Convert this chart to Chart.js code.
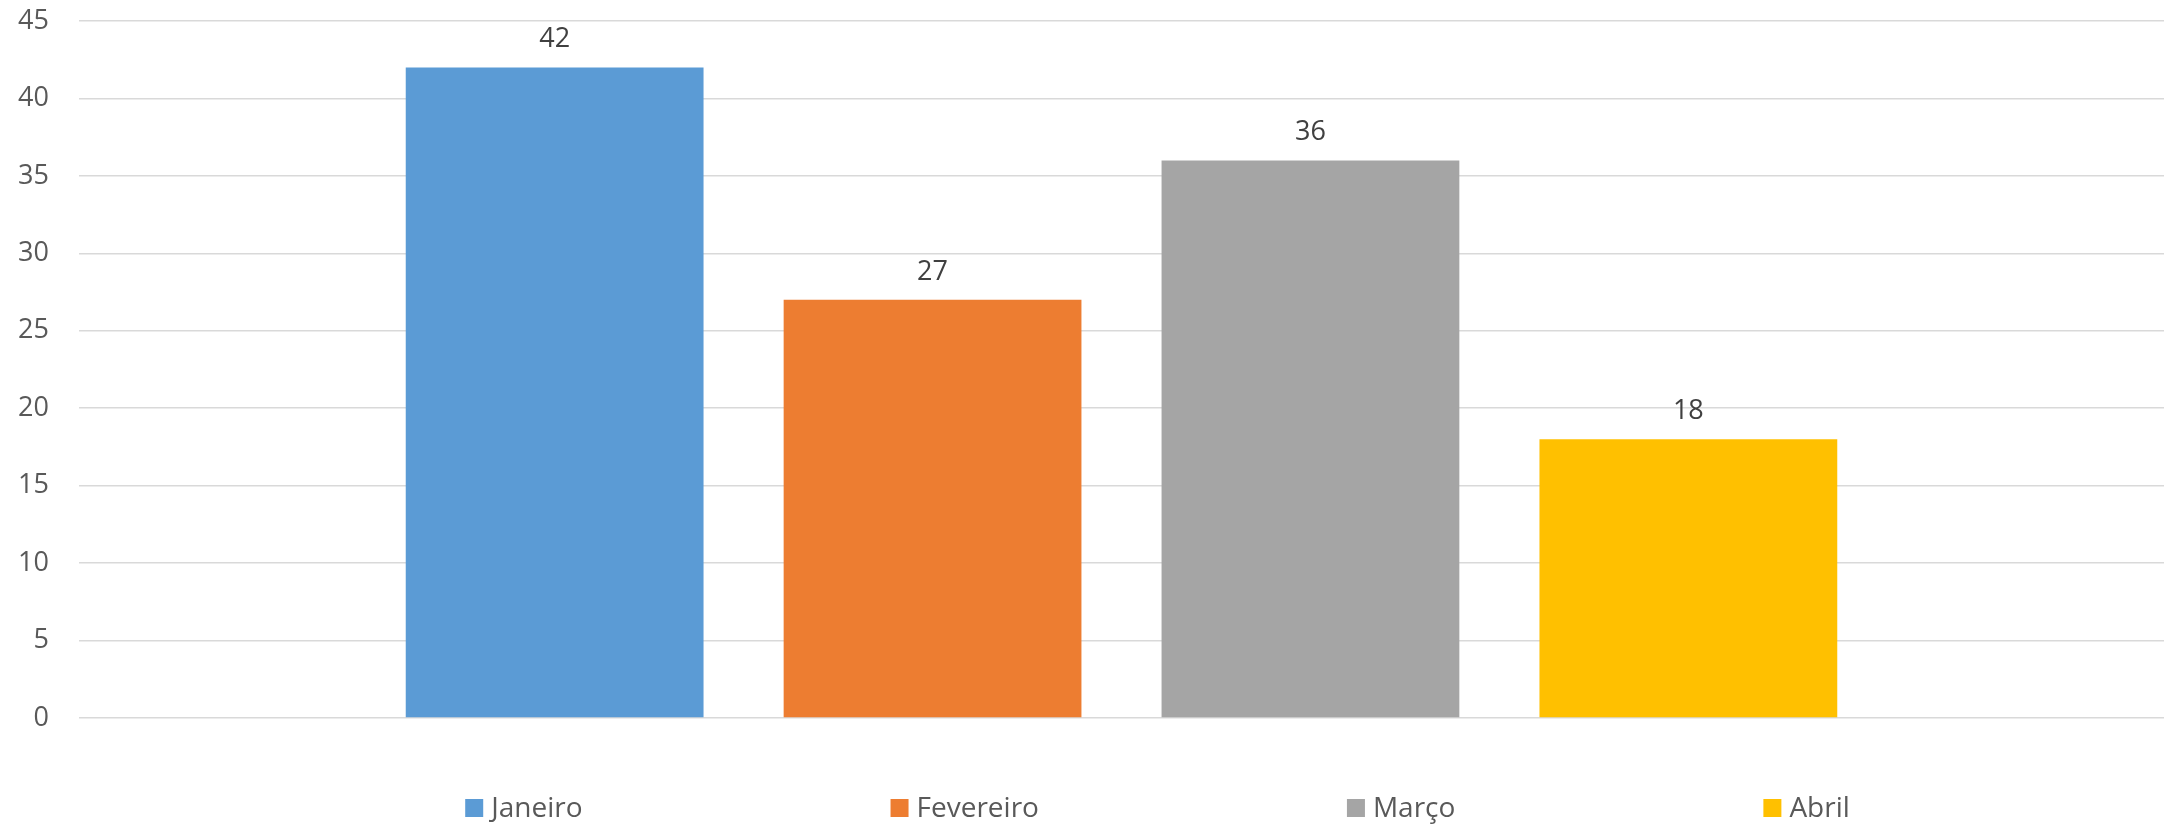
<!DOCTYPE html>
<html>
<head>
<meta charset="utf-8">
<script src="https://cdn.jsdelivr.net/npm/chart.js@4/dist/chart.umd.min.js"></script>
<style>
  html, body { margin: 0; padding: 0; background: #fff; }
  #wrap { width: 2164px; height: 824px; position: relative; }
</style>
</head>
<body>
<div id="wrap"><canvas id="chart"></canvas></div>
<script>
(function () {
    'use strict';

    // data
    var months = ['Janeiro', 'Fevereiro', 'Março', 'Abril'];
    var counts = [42, 27, 36, 18];
    var colors = ['#5B9BD5', '#ED7D31', '#A5A5A5', '#FFC000'];
    var yTicks = [0, 5, 10, 15, 20, 25, 30, 35, 40, 45];

    var FONT = '"Open Sans", "Noto Sans", sans-serif';

    // value printed over each bar
    var valueLabels = {
        id: 'valueLabels',
        afterDatasetsDraw: function (chart) {
            var ctx = chart.ctx;
            ctx.save();
            ctx.font = '27px ' + FONT;
            ctx.fillStyle = '#404040';
            ctx.textAlign = 'center';
            ctx.textBaseline = 'alphabetic';
            chart.data.datasets.forEach(function (ds, i) {
                var meta = chart.getDatasetMeta(i);
                meta.data.forEach(function (bar, j) {
                    ctx.fillText(String(ds.data[j]), bar.x, bar.y - 20);
                });
            });
            ctx.restore();
        }
    };

    // Excel-like spread legend under the plot
    var spreadLegend = {
        id: 'spreadLegend',
        afterDraw: function (chart) {
            var ctx = chart.ctx;
            var box = 18, gapText = 8, gapItem = 308;
            ctx.save();
            ctx.font = '28px ' + FONT;
            ctx.textBaseline = 'alphabetic';
            var items = chart.data.datasets.map(function (ds) {
                return { text: ds.label, color: ds.backgroundColor, w: ctx.measureText(ds.label).width };
            });
            var total = 0;
            items.forEach(function (it, k) {
                total += box + gapText + it.w + (k ? gapItem : 0);
            });
            var area = chart.chartArea;
            var x = (area.left + area.right) / 2 + 36 - total / 2;
            var base = 817;
            items.forEach(function (it) {
                ctx.fillStyle = it.color;
                ctx.fillRect(x, base - box, box, box);
                ctx.fillStyle = '#595959';
                ctx.fillText(it.text, x + box + gapText, base);
                x += box + gapText + it.w + gapItem;
            });
            ctx.restore();
        }
    };

    var datasets = months.map(function (m, i) {
        return {
            label: m,
            data: [counts[i]],
            backgroundColor: colors[i],
            borderWidth: 0,
            barPercentage: 0.788,
            categoryPercentage: 0.725
        };
    });

    new Chart(document.getElementById('chart').getContext('2d'), {
        type: 'bar',
        data: { labels: [''], datasets: datasets },
        plugins: [valueLabels, spreadLegend],
        options: {
            responsive: true,
            maintainAspectRatio: false,
            animation: false,
            layout: { padding: { top: 21, right: 0, bottom: 106, left: 0 } },
            plugins: {
                legend: { display: false },
                tooltip: { enabled: false }
            },
            scales: {
                x: { display: false },
                y: {
                    min: 0,
                    max: 45,
                    afterFit: function (scale) {
                        scale.width = 79;
                        scale.paddingTop = 0;
                        scale.paddingBottom = 0;
                    },
                    afterBuildTicks: function (scale) {
                        scale.ticks = yTicks.map(function (v) { return { value: v }; });
                    },
                    grid: { color: '#D9D9D9', lineWidth: 1.5, drawTicks: false },
                    border: { display: false },
                    ticks: {
                        padding: 30,
                        color: '#595959',
                        font: { family: FONT, size: 27 }
                    }
                }
            }
        }
    });
})();
</script>
</body>
</html>
